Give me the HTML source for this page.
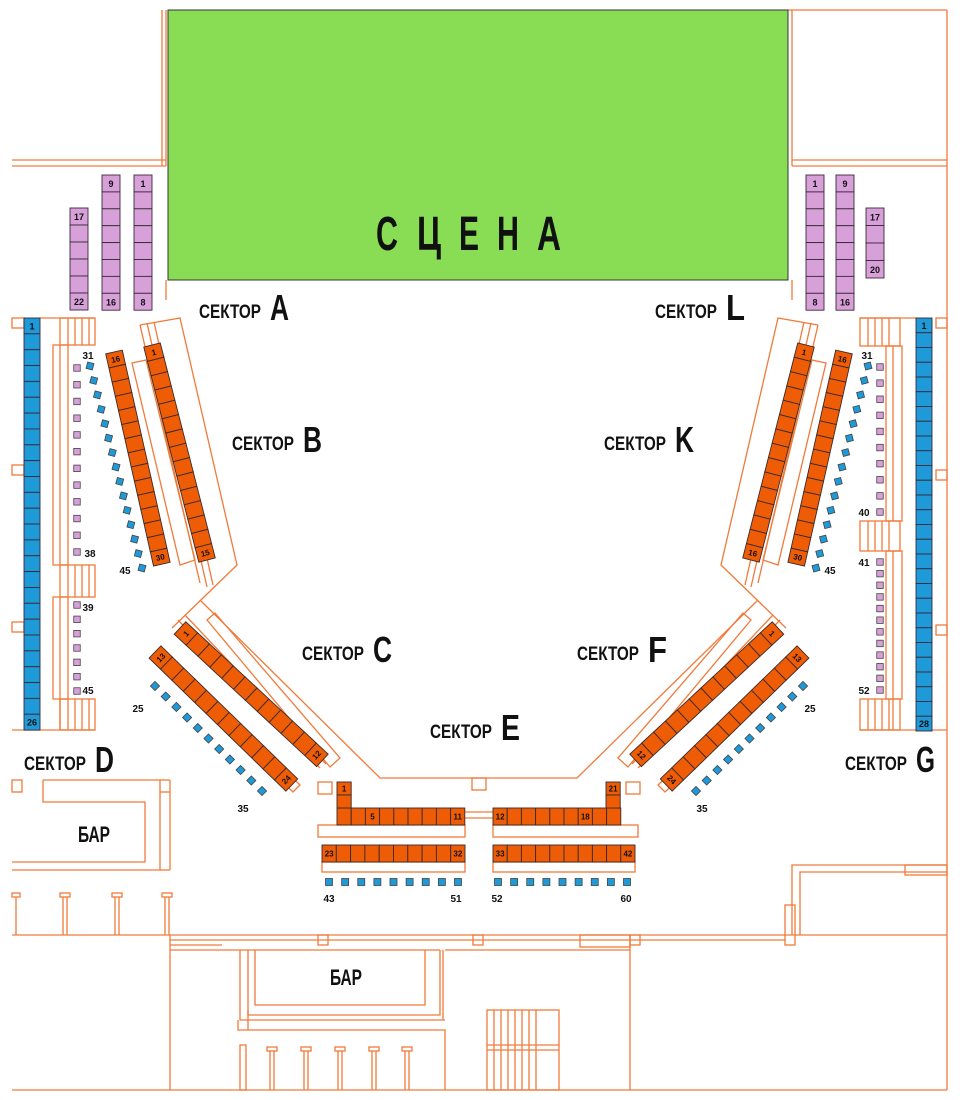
<!DOCTYPE html>
<html><head><meta charset="utf-8"><style>
html,body{margin:0;padding:0;background:#fff;}
svg{display:block;}
text{font-family:"Liberation Sans Narrow","Liberation Sans",sans-serif;font-weight:bold;fill:#111;}
</style></head><body>
<svg id="s" width="960" height="1100" viewBox="0 0 960 1100" xmlns="http://www.w3.org/2000/svg">
<g fill="none" stroke="#f07a3a" stroke-width="1.3">
<line x1="162" y1="10" x2="162" y2="166"/><line x1="166" y1="10" x2="166" y2="166"/>
<line x1="12" y1="160" x2="166" y2="160"/><line x1="12" y1="166" x2="166" y2="166"/>
<line x1="792" y1="10" x2="792" y2="166"/><line x1="788" y1="10" x2="947" y2="10"/>
<line x1="792" y1="160" x2="947" y2="160"/><line x1="792" y1="166" x2="947" y2="166"/>
<line x1="947" y1="10" x2="947" y2="1090"/>
<line x1="166" y1="280" x2="166" y2="300"/><line x1="792" y1="280" x2="792" y2="300"/>
<rect x="12" y="318" width="12" height="10"/><rect x="12" y="465" width="12" height="10"/><rect x="12" y="622" width="12" height="10"/>
<line x1="40" y1="318" x2="95" y2="318"/><line x1="12" y1="730" x2="95" y2="730"/>
<rect x="60" y="318" width="35" height="27"/><line x1="68" y1="318" x2="68" y2="345"/><line x1="75" y1="318" x2="75" y2="345"/><line x1="82" y1="318" x2="82" y2="345"/><line x1="89" y1="318" x2="89" y2="345"/>
<rect x="53" y="345" width="15" height="220"/><line x1="60" y1="345" x2="60" y2="565"/>
<rect x="60" y="565" width="35" height="32"/><line x1="68" y1="565" x2="68" y2="597"/><line x1="75" y1="565" x2="75" y2="597"/><line x1="82" y1="565" x2="82" y2="597"/><line x1="89" y1="565" x2="89" y2="597"/>
<rect x="53" y="597" width="15" height="102"/><line x1="60" y1="597" x2="60" y2="730"/>
<rect x="60" y="699" width="35" height="31"/><line x1="68" y1="699" x2="68" y2="730"/><line x1="75" y1="699" x2="75" y2="730"/><line x1="82" y1="699" x2="82" y2="730"/><line x1="89" y1="699" x2="89" y2="730"/>
<rect x="936" y="318" width="11" height="10"/><rect x="936" y="470" width="11" height="10"/><rect x="936" y="625" width="11" height="10"/>
<line x1="860" y1="318" x2="916" y2="318"/><line x1="860" y1="730" x2="947" y2="730"/>
<rect x="860" y="318" width="40" height="28"/><line x1="868" y1="318" x2="868" y2="346"/><line x1="875" y1="318" x2="875" y2="346"/><line x1="882" y1="318" x2="882" y2="346"/><line x1="889" y1="318" x2="889" y2="346"/>
<rect x="886" y="346" width="16" height="175"/><line x1="893" y1="346" x2="893" y2="521"/>
<rect x="860" y="521" width="40" height="30"/><line x1="868" y1="521" x2="868" y2="551"/><line x1="875" y1="521" x2="875" y2="551"/><line x1="882" y1="521" x2="882" y2="551"/><line x1="889" y1="521" x2="889" y2="551"/>
<rect x="886" y="551" width="16" height="148"/><line x1="893" y1="551" x2="893" y2="730"/>
<rect x="860" y="699" width="40" height="31"/><line x1="868" y1="699" x2="868" y2="730"/><line x1="875" y1="699" x2="875" y2="730"/><line x1="882" y1="699" x2="882" y2="730"/><line x1="889" y1="699" x2="889" y2="730"/>
<!-- hall outline -->
<polyline points="140,325 180,318 237,565 172,628"/>
<polyline points="818,325 778,318 721,565 786,628"/>
<polyline points="200,600 380,778 577,778 758,600"/>
<line x1="140" y1="325" x2="200" y2="583"/>
<line x1="818" y1="325" x2="758" y2="583"/>
<line x1="147" y1="323" x2="207" y2="587"/><line x1="154" y1="322" x2="213" y2="585"/>
<line x1="811" y1="323" x2="751" y2="587"/><line x1="804" y1="322" x2="745" y2="585"/>
<polygon points="132,363 146,360 195,560 180,565"/>
<polygon points="826,363 812,360 763,560 778,565"/>
<polygon points="215,613 340,758 330,767 207,620"/>
<polygon points="743,613 618,758 628,767 751,620"/>
<line x1="178" y1="620" x2="320" y2="768"/><line x1="185" y1="615" x2="326" y2="764"/>
<line x1="780" y1="620" x2="638" y2="768"/><line x1="773" y1="615" x2="632" y2="764"/>
<polygon points="160,650 300,785 293,792 150,658"/>
<polygon points="798,650 658,785 665,792 808,658"/>
<rect x="318" y="782" width="14" height="12"/><rect x="472" y="778" width="14" height="12"/><rect x="626" y="782" width="14" height="12"/>
<rect x="318" y="825" width="147" height="12"/><rect x="493" y="825" width="145" height="12"/>
<rect x="322" y="862" width="143" height="10"/><rect x="493" y="862" width="142" height="10"/>
<line x1="465" y1="812" x2="493" y2="812"/><line x1="465" y1="818" x2="493" y2="818"/>
<rect x="12" y="780" width="10" height="12"/>
<polyline points="43,780 160,780 160,870 12,870"/><polyline points="43,780 43,802 145,802 145,862 12,862"/>
<line x1="160" y1="780" x2="170" y2="780"/><line x1="170" y1="780" x2="170" y2="870"/><line x1="160" y1="792" x2="170" y2="792"/><line x1="160" y1="870" x2="170" y2="870"/>
<line x1="12" y1="935" x2="947" y2="935"/><line x1="170" y1="940" x2="785" y2="940"/>
<rect x="12" y="893" width="8" height="4"/><line x1="16" y1="897" x2="16" y2="935"/>
<rect x="60" y="893" width="10" height="4"/><line x1="63" y1="897" x2="63" y2="935"/><line x1="67" y1="897" x2="67" y2="935"/>
<rect x="112" y="893" width="10" height="4"/><line x1="115" y1="897" x2="115" y2="935"/><line x1="119" y1="897" x2="119" y2="935"/>
<rect x="162" y="893" width="10" height="4"/><line x1="165" y1="897" x2="165" y2="935"/><line x1="169" y1="897" x2="169" y2="935"/>
<line x1="170" y1="935" x2="170" y2="1090"/><line x1="170" y1="945" x2="222" y2="945"/>
<rect x="318" y="935" width="10" height="10"/><rect x="473" y="935" width="10" height="10"/><rect x="630" y="935" width="10" height="10"/>
<rect x="580" y="935" width="50" height="12"/>
<line x1="12" y1="1090" x2="947" y2="1090"/>
<line x1="170" y1="950" x2="440" y2="950"/><line x1="445" y1="950" x2="630" y2="950"/>
<polyline points="248,950 248,1015 440,1015 440,950"/>
<polyline points="255,950 255,1005 425,1005 425,950"/>
<polyline points="240,950 240,1020 445,1020"/><polyline points="248,1010 248,1030"/>
<polyline points="238,1020 238,1030 445,1030 445,1090"/><line x1="443" y1="950" x2="443" y2="1020"/>
<line x1="630" y1="935" x2="630" y2="1090"/>
<rect x="240" y="1045" width="6" height="45"/>
<rect x="267" y="1047" width="10" height="4"/><line x1="270" y1="1051" x2="270" y2="1090"/><line x1="274" y1="1051" x2="274" y2="1090"/>
<rect x="301" y="1047" width="10" height="4"/><line x1="304" y1="1051" x2="304" y2="1090"/><line x1="308" y1="1051" x2="308" y2="1090"/>
<rect x="335" y="1047" width="10" height="4"/><line x1="338" y1="1051" x2="338" y2="1090"/><line x1="342" y1="1051" x2="342" y2="1090"/>
<rect x="369" y="1047" width="10" height="4"/><line x1="372" y1="1051" x2="372" y2="1090"/><line x1="376" y1="1051" x2="376" y2="1090"/>
<rect x="402" y="1047" width="10" height="4"/><line x1="405" y1="1051" x2="405" y2="1090"/><line x1="409" y1="1051" x2="409" y2="1090"/>
<rect x="487" y="1010" width="72" height="80"/>
<line x1="487" y1="1045" x2="559" y2="1045"/><line x1="487" y1="1050" x2="559" y2="1050"/>
<line x1="494" y1="1010" x2="494" y2="1090"/><line x1="501" y1="1010" x2="501" y2="1090"/><line x1="508" y1="1010" x2="508" y2="1090"/><line x1="515" y1="1010" x2="515" y2="1090"/><line x1="522" y1="1010" x2="522" y2="1090"/><line x1="529" y1="1010" x2="529" y2="1090"/><line x1="536" y1="1010" x2="536" y2="1090"/>
<polyline points="947,865 792,865 792,935"/><polyline points="947,872 800,872 800,935"/>
<rect x="785" y="905" width="10" height="40"/><rect x="905" y="865" width="42" height="10"/>
</g>
<rect x="168" y="10" width="620" height="270" fill="#88dd55" stroke="#333" stroke-width="1"/>
<g font-size="48">
<text x="376" y="250" textLength="22" lengthAdjust="spacingAndGlyphs">С</text>
<text x="417" y="250" textLength="24" lengthAdjust="spacingAndGlyphs">Ц</text>
<text x="459" y="250" textLength="20" lengthAdjust="spacingAndGlyphs">Е</text>
<text x="497" y="250" textLength="22" lengthAdjust="spacingAndGlyphs">Н</text>
<text x="537" y="250" textLength="24" lengthAdjust="spacingAndGlyphs">А</text>
</g>
<g id="seats"></g>
<g id="labels"></g>
</svg>
<script>
var S=document.getElementById('seats'),out='';
var ORG='#ee5c06',PINK='#d8a0d8',BLUE='#1e9ad8';
function row(x,y,ang,n,len,th,fill,labs,fs){
  var g='<g transform="translate('+x+','+y+') rotate('+ang+')">';
  for(var i=0;i<n;i++){
    g+='<rect x="'+(i*len)+'" y="'+(-th/2)+'" width="'+len+'" height="'+th+'" fill="'+fill+'" stroke="#3a2a2a" stroke-width="0.9"/>';
    if(labs&&labs[i]!==undefined){
      g+='<text transform="translate('+(i*len+len/2)+',0) rotate(-90)" font-size="'+(fs||8)+'" text-anchor="middle" dy="3">'+labs[i]+'</text>';
    }
  }
  return g+'</g>';
}
function vcol(x,y,n,len,th,fill,labs){
  var g='';
  for(var i=0;i<n;i++){
    g+='<rect x="'+(x-th/2)+'" y="'+(y+i*len)+'" width="'+th+'" height="'+len+'" fill="'+fill+'" stroke="#3a2a3a" stroke-width="0.9"/>';
    if(labs&&labs[i]!==undefined) g+='<text x="'+x+'" y="'+(y+i*len+len/2+3.5)+'" font-size="9" text-anchor="middle">'+labs[i]+'</text>';
  }
  return g;
}
function dots(x1,y1,x2,y2,n,sz,fill,ang){
  var g='';
  for(var i=0;i<n;i++){
    var x=x1+(x2-x1)*i/(n-1),y=y1+(y2-y1)*i/(n-1);
    g+='<rect x="'+(x-sz/2)+'" y="'+(y-sz/2)+'" width="'+sz+'" height="'+sz+'" fill="'+fill+'" stroke="#444" stroke-width="0.8" transform="rotate('+(ang||0)+' '+x+' '+y+')"/>';
  }
  return g;
}
out+=vcol(79,208,6,17,18,PINK,{0:'17',5:'22'});
out+=vcol(111,175,8,16.9,18,PINK,{0:'9',7:'16'});
out+=vcol(143,175,8,16.9,18,PINK,{0:'1',7:'8'});
out+=vcol(815,175,8,16.9,18,PINK,{0:'1',7:'8'});
out+=vcol(845,175,8,16.9,18,PINK,{0:'9',7:'16'});
out+=vcol(875,208,4,17.5,18,PINK,{0:'17',3:'20'});
out+=vcol(32,318,26,15.85,16,BLUE,{0:'1',25:'26'});
out+=vcol(924,318,28,14.75,16,BLUE,{0:'1',27:'28'});
out+=row(152,345,75.65,15,14.8,17,ORG,{0:'1',14:'15'});
out+=row(114,352,77.3,15,14.5,17,ORG,{0:'16',14:'30'});
out+=row(806,345,104.35,15,14.8,17,ORG,{0:'1',14:'16'});
out+=row(844,352,102.7,15,14.5,17,ORG,{0:'16',14:'30'});
out+=dots(90,366,142,568,15,6.5,BLUE,15);
out+=dots(868,366,816,568,15,6.5,BLUE,-15);
out+=dots(77,368,77,552,12,6.5,PINK);
out+=dots(77,605,77,691,7,6.5,PINK);
out+=dots(880,367,880,512,10,6.5,PINK);
out+=dots(880,562,880,690,12,6.5,PINK);
out+=row(180,628,42.9,12,16.2,17,ORG,{0:'1',11:'12'});
out+=row(155,652,44.2,12,15.9,17,ORG,{0:'13',11:'24'});
out+=row(778,628,137.1,12,16.2,17,ORG,{0:'1',11:'12'});
out+=row(803,652,135.8,12,15.9,17,ORG,{0:'13',11:'24'});
out+=dots(155,686,262,791,11,6.5,BLUE,45);
out+=dots(803,686,696,791,11,6.5,BLUE,-45);
function hrow(x,y,n,w,h,labs){
  var g='';
  for(var i=0;i<n;i++){
    g+='<rect x="'+(x+i*w)+'" y="'+y+'" width="'+w+'" height="'+h+'" fill="'+ORG+'" stroke="#3a2a2a" stroke-width="0.9"/>';
    if(labs[i]!==undefined) g+='<text x="'+(x+i*w+w/2)+'" y="'+(y+h/2+3)+'" font-size="8" text-anchor="middle">'+labs[i]+'</text>';
  }
  return g;
}
out+=hrow(337,808,9,14.2,17,{2:'5',8:'11'});
out+=hrow(337,782,1,14.2,13,{0:'1'})+hrow(337,795,1,14.2,13,{});
out+=hrow(493,808,9,14.2,17,{0:'12',6:'18'});
out+=hrow(606,782,1,14.2,13,{0:'21'})+hrow(606,795,1,14.2,13,{});
out+=hrow(322,845,10,14.3,17,{0:'23',9:'32'});
out+=hrow(493,845,10,14.2,17,{0:'33',9:'42'});
out+=dots(329,882,458,882,9,7,BLUE);
out+=dots(498,882,627,882,9,7,BLUE);
S.innerHTML=out;
var L='';
function t(x,y,s,fs){L+='<text x="'+x+'" y="'+y+'" font-size="'+(fs||10)+'" text-anchor="middle">'+s+'</text>';}
t(88,359,'31');t(90,557,'38');t(88,611,'39');t(88,694,'45');t(125,574,'45');
t(867,359,'31');t(864,516,'40');t(864,566,'41');t(864,694,'52');t(830,574,'45');
t(138,712,'25');t(243,812,'35');t(810,712,'25');t(702,812,'35');
t(329,902,'43');t(456,902,'51');t(497,902,'52');t(626,902,'60');
function sec(x,y,ch){
  L+='<text x="'+x+'" y="'+y+'" font-size="19" textLength="62" lengthAdjust="spacingAndGlyphs">СЕКТОР</text>';
  L+='<text x="'+(x+71)+'" y="'+(y+2)+'" font-size="36" textLength="19" lengthAdjust="spacingAndGlyphs">'+ch+'</text>';
}
sec(199,318,'A');sec(655,318,'L');sec(232,450,'B');sec(604,450,'K');
sec(302,660,'C');sec(577,660,'F');sec(430,738,'E');sec(24,770,'D');sec(845,770,'G');
L+='<text x="78" y="842" font-size="22" textLength="32" lengthAdjust="spacingAndGlyphs">БАР</text>';
L+='<text x="330" y="985" font-size="22" textLength="32" lengthAdjust="spacingAndGlyphs">БАР</text>';
document.getElementById('labels').innerHTML=L;
</script>
</body></html>
